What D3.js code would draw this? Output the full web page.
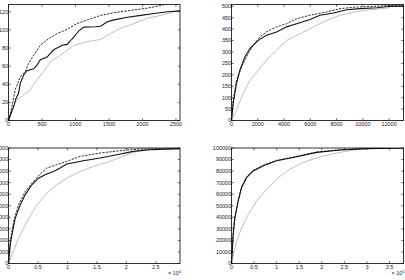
<!DOCTYPE html>
<html><head><meta charset="utf-8">
<script src="https://cdn.jsdelivr.net/npm/d3@7"></script>
<style>body{margin:0;background:#fff}svg{display:block}text{font-family:"Liberation Sans",Arial,sans-serif;font-size:5.5px;fill:#222}</style>
</head><body><svg id="c" width="405" height="280"></svg>
<script>
// ---- Panel 1 ----
const p1XTicks = [0, 500, 1000, 1500, 2000, 2500];
const p1YTicks = [0, 20, 40, 60, 80, 100, 120];
const p1Solid = [[0,0],[40,8],[75,15],[110,24],[150,30],[175,41],[225,50],[275,55],[375,57],[425,61],[475,67],[575,70],[625,74],[675,78],[800,83],[875,84],[925,88],[975,92],[1050,99],[1125,103],[1300,103.5],[1375,104],[1475,109],[1575,111],[1775,114],[1975,116],[2175,118],[2375,120],[2560,121]];
const p1Dash = [[0,0],[50,15],[100,34],[175,48],[250,54],[300,63],[375,72],[475,83],[575,89],[725,96],[875,100.5],[1025,107],[1175,111],[1375,116],[1575,119],[1875,122],[2075,124],[2275,127],[2400,129]];
const p1Gray = [[0,0],[50,12],[125,23],[225,28],[325,34],[425,45],[525,54],[625,65],[775,72],[975,83],[1175,87],[1375,89.5],[1525,96],[1675,102],[1875,107],[2075,113],[2275,116],[2475,120],[2560,121]];
// ---- Panel 2 ----
const p2XTicks = [0, 2000, 4000, 6000, 8000, 10000, 12000];
const p2YTicks = [0, 50, 100, 150, 200, 250, 300, 350, 400, 450, 500];
const p2Solid = [[0,0],[127,74],[380,162],[636,220],[1018,278],[1400,315],[2036,351],[2670,373],[3435,388],[4200,410],[4960,424],[5980,442],[6740,461],[7760,471],[8780,485],[9800,490],[11070,494],[12090,500],[13100,501]];
const p2Dash = [[0,0],[127,89],[380,176],[763,235],[1272,293],[1654,330],[2163,366],[2670,388],[3435,410],[4200,424],[4960,446],[5980,461],[7250,475],[8270,490],[9540,497],[10800,500],[12090,504],[13100,504]];
const p2Gray = [[0,0],[380,45],[890,118],[1400,176],[2036,220],[2670,264],[3435,308],[4200,351],[5216,380],[6234,410],[7250,439],[8270,461],[9290,475],[10300,483],[12090,494]];
// ---- Panel 3 ----
const p3XTicks = [0, 5000, 10000, 15000, 20000, 25000];
const p3XLabels = ["0", "0.5", "1", "1.5", "2", "2.5"];
const p3YTicks = [0, 1000, 2000, 3000, 4000, 5000, 6000, 7000, 8000, 9000, 10000];
const p3Solid = [[0,0],[283,1594],[565,2464],[1130,3913],[1978,5072],[2825,5942],[3955,6812],[5085,7391],[6215,7681],[7628,7971],[8758,8261],[9888,8609],[12713,8899],[15540,9130],[18360,9420],[21190,9710],[24010,9855],[29100,9942]];
const p3Dash = [[0,0],[283,1884],[848,3623],[1695,5072],[2825,6232],[4238,7101],[5368,7739],[6498,8261],[8193,8551],[9888,8841],[12150,9275],[15540,9565],[18930,9768],[22320,9913],[29100,9942]];
const p3Gray = [[0,0],[565,725],[1695,2174],[3108,3623],[4803,5072],[6498,6087],[8193,6812],[9888,7391],[12150,7971],[14410,8406],[17230,8841],[20060,9420],[22880,9855],[25140,9942],[29100,9971]];
// ---- Panel 4 ----
const p4XTicks = [0, 50000, 100000, 150000, 200000, 250000, 300000, 350000];
const p4XLabels = ["0", "0.5", "1", "1.5", "2", "2.5", "3", "3.5"];
const p4YTicks = [0, 10000, 20000, 30000, 40000, 50000, 60000, 70000, 80000, 90000, 100000];
const p4Solid = [[0,0],[3700,24780],[7400,39360],[14800,53940],[22200,65600],[33300,74340],[48100,80170],[70300,84550],[99900,88920],[136900,91840],[188700,96210],[240500,98250],[299700,99420],[381000,100000]];
const p4Dash = [[0,0],[3700,25500],[7400,40200],[14800,54600],[22200,66200],[33300,74900],[48100,80600],[70300,85000],[99900,89300],[136900,92200],[188700,96500],[240500,98500],[299700,99600],[381000,100100]];
const p4Gray = [[0,0],[3700,7290],[11100,18950],[22200,30610],[37000,42270],[55500,53940],[77700,64140],[103600,74340],[129500,81630],[159100,87460],[196100,92420],[240500,96210],[285000,99130],[329300,100000],[381000,100300]];

const panels = [
  {x0:8.5, x1:180, y0:4.5, y1:120.5, xd:[0,2560], yd:[0,128], xt:p1XTicks, xl:p1XTicks.map(String), yt:p1YTicks, s:[p1Gray,p1Solid,p1Dash], mult:null},
  {x0:231.5, x1:403.5, y0:4.5, y1:120.5, xd:[0,13100], yd:[0,508], xt:p2XTicks, xl:p2XTicks.map(String), yt:p2YTicks, s:[p2Gray,p2Solid,p2Dash], mult:null},
  {x0:8.5, x1:180, y0:148, y1:263.5, xd:[0,29100], yd:[0,10000], xt:p3XTicks, xl:p3XLabels, yt:p3YTicks, s:[p3Gray,p3Solid,p3Dash], mult:"4"},
  {x0:231.5, x1:403.5, y0:148, y1:263.5, xd:[0,381000], yd:[0,100000], xt:p4XTicks, xl:p4XLabels, yt:p4YTicks, s:[p4Gray,p4Solid,p4Dash], mult:"5"}
];
const styles = [
  {stroke:"#b8b8b8", w:0.9, dash:null},
  {stroke:"#111", w:1.1, dash:null},
  {stroke:"#111", w:0.9, dash:"2.2,1.3"}
];
const svg = d3.select("#c");
panels.forEach((p,i)=>{
  const x = d3.scaleLinear().domain(p.xd).range([p.x0,p.x1]);
  const y = d3.scaleLinear().domain(p.yd).range([p.y1,p.y0]);
  const g = svg.append("g");
  const cid = "clip"+i;
  g.append("clipPath").attr("id",cid).append("rect").attr("x",p.x0).attr("y",p.y0).attr("width",p.x1-p.x0).attr("height",p.y1-p.y0);
  const line = d3.line().x(d=>x(d[0])).y(d=>y(d[1]));
  p.s.forEach((ser,k)=>{
    g.append("path").attr("clip-path",`url(#${cid})`).attr("d",line(ser)).attr("fill","none")
      .attr("stroke",styles[k].stroke).attr("stroke-width",styles[k].w).attr("stroke-dasharray",styles[k].dash);
  });
  // box
  g.append("rect").attr("x",p.x0).attr("y",p.y0).attr("width",p.x1-p.x0).attr("height",p.y1-p.y0)
    .attr("fill","none").attr("stroke","#000").attr("stroke-width",0.8);
  // ticks inward
  const tl = 2.2;
  p.xt.forEach((t,j)=>{
    const xx = x(t);
    g.append("line").attr("x1",xx).attr("x2",xx).attr("y1",p.y1).attr("y2",p.y1-tl).attr("stroke","#000").attr("stroke-width",0.6);
    g.append("line").attr("x1",xx).attr("x2",xx).attr("y1",p.y0).attr("y2",p.y0+tl).attr("stroke","#000").attr("stroke-width",0.6);
    g.append("text").attr("x",xx).attr("y",p.y1+5.5).attr("text-anchor","middle").text(p.xl[j]);
  });
  p.yt.forEach(t=>{
    const yy = y(t);
    g.append("line").attr("x1",p.x0).attr("x2",p.x0+tl).attr("y1",yy).attr("y2",yy).attr("stroke","#000").attr("stroke-width",0.6);
    g.append("line").attr("x1",p.x1).attr("x2",p.x1-tl).attr("y1",yy).attr("y2",yy).attr("stroke","#000").attr("stroke-width",0.6);
    g.append("text").attr("x",p.x0-0.3).attr("y",yy+1.9).attr("text-anchor","end").text(String(t));
  });
  if(p.mult){
    const t = g.append("text").attr("x",p.x1-12).attr("y",p.y1+11);
    t.append("tspan").text("× 10");
    t.append("tspan").attr("dy",-2).style("font-size","4px").text(p.mult);
  }
});
</script></body></html>
